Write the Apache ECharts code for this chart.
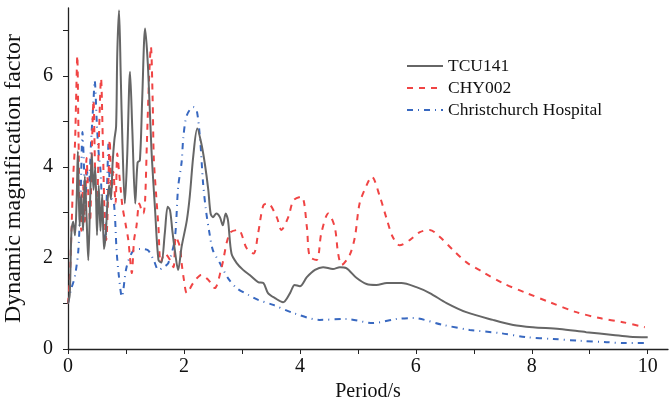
<!DOCTYPE html>
<html><head><meta charset="utf-8">
<script src="https://cdn.jsdelivr.net/npm/echarts@6/dist/echarts.min.js"></script>
<style>html,body{margin:0;padding:0;background:#fff}#c{width:670px;height:404px}</style>
</head><body><div id="c"></div>
<script>
const seriesNames = ['TCU141', 'CHY002', 'Christchurch Hospital'];
const xTickValues = [0,1,2,3,4,5,6,7,8,9,10];
const xLabelValues = [0,2,4,6,8,10];
const yTickValues = [0,1,2,3,4,5,6,7];
const yLabelValues = [0,2,4,6];

const tcuT = [0,0.03,0.06,0.09,0.12,0.15,0.17,0.2,0.23,0.26,0.29,0.32,0.35,0.38,0.41,0.44,0.47,0.5,0.53,0.56,0.59,0.62,0.65,0.68,0.71,0.74,0.77,0.8,0.83,0.85,0.88,0.91,0.94,0.98,1.02,1.07,1.11,1.16,1.2,1.24,1.28,1.33,1.38,1.44,1.5,1.56,1.61,1.67,1.72,1.76,1.8,1.84,1.9,1.96,2.05,2.1,2.16,2.23,2.3,2.36,2.42,2.46,2.5,2.56,2.62,2.67,2.72,2.76,2.82,2.91,3.02,3.14,3.28,3.37,3.45,3.57,3.71,3.83,3.91,4.0,4.12,4.26,4.4,4.57,4.69,4.8,4.98,5.15,5.32,5.5,5.75,6.01,6.24,6.53,6.87,7.33,7.68,8.02,8.48,8.94,9.4,9.69,10.0];
const tcuV = [1.0,1.2,2.6,2.8,2.5,3.3,4.35,2.7,3.4,2.6,3.8,2.9,1.95,3.2,4.3,3.5,4.0,2.5,3.6,2.6,3.4,2.2,2.5,3.2,3.6,3.3,4.1,4.6,4.9,6.5,7.45,6.0,4.5,3.2,4.2,6.1,4.8,3.2,4.1,4.15,5.5,7.05,6.2,4.37,3.1,1.96,1.9,2.55,3.13,3.05,2.6,2.2,1.74,2.25,2.83,3.35,4.23,4.85,4.52,4.08,3.5,2.98,2.9,2.98,2.9,2.72,2.98,2.83,2.1,1.89,1.74,1.62,1.47,1.45,1.23,1.12,1.03,1.23,1.41,1.38,1.58,1.74,1.8,1.76,1.8,1.78,1.56,1.43,1.41,1.45,1.45,1.36,1.23,1.01,0.81,0.64,0.53,0.48,0.44,0.37,0.31,0.27,0.26];

const chyT = [0,0.03,0.06,0.09,0.12,0.14,0.16,0.18,0.2,0.23,0.26,0.29,0.32,0.35,0.38,0.41,0.44,0.47,0.5,0.53,0.57,0.6,0.63,0.66,0.69,0.72,0.75,0.78,0.82,0.85,0.88,0.91,0.94,1.0,1.04,1.07,1.1,1.14,1.18,1.23,1.27,1.3,1.33,1.36,1.4,1.43,1.46,1.48,1.52,1.56,1.6,1.67,1.76,1.82,1.86,1.93,1.96,2.0,2.05,2.16,2.3,2.42,2.53,2.65,2.79,2.94,3.08,3.2,3.28,3.37,3.45,3.6,3.68,3.8,3.89,4.03,4.12,4.17,4.29,4.37,4.49,4.6,4.66,4.72,4.86,4.95,5.03,5.15,5.24,5.38,5.5,5.6,5.72,5.9,6.07,6.24,6.41,6.64,6.87,7.16,7.5,7.91,8.31,8.77,9.17,9.57,9.95];
const chyV = [1.0,1.5,2.6,3.8,4.5,5.5,6.45,4.8,3.2,2.6,3.6,2.8,4.2,3.4,2.8,4.3,5.47,3.8,3.2,4.5,5.95,4.6,3.0,2.4,3.3,4.6,3.5,3.9,3.2,4.3,3.9,3.5,3.13,2.7,2.4,2.0,1.67,2.4,2.69,3.2,3.05,2.98,3.27,4.5,6.0,6.65,5.5,4.2,3.4,2.69,1.9,2.1,1.96,1.8,2.47,2.25,1.89,1.52,1.23,1.45,1.63,1.52,1.34,1.8,2.55,2.62,2.22,2.1,2.55,3.16,3.2,2.9,2.62,2.9,3.27,3.35,2.69,2.03,1.96,2.55,2.98,2.69,2.1,1.85,2.07,2.47,3.2,3.6,3.79,3.35,2.85,2.47,2.28,2.4,2.57,2.62,2.47,2.18,1.91,1.69,1.45,1.23,1.03,0.81,0.68,0.59,0.48];

const chcT = [0,0.05,0.1,0.13,0.18,0.22,0.25,0.27,0.3,0.33,0.36,0.4,0.44,0.46,0.5,0.53,0.56,0.59,0.64,0.67,0.7,0.73,0.79,0.84,0.88,0.93,1.01,1.13,1.25,1.38,1.48,1.56,1.65,1.73,1.84,1.9,1.96,1.99,2.05,2.16,2.22,2.28,2.33,2.38,2.44,2.5,2.62,2.76,2.91,3.11,3.28,3.54,3.89,4.34,4.8,5.26,5.67,5.95,6.47,6.93,7.45,7.91,8.37,8.83,9.29,9.63,9.98];
const chcV = [1.0,1.3,1.5,1.67,2.2,3.5,4.77,4.23,3.2,3.9,3.65,4.6,5.47,5.9,4.89,4.3,3.93,3.13,2.33,3.4,4.52,3.35,3.23,2.13,1.58,1.15,1.8,2.17,2.2,2.17,1.95,1.74,1.8,1.89,2.4,3.56,4.11,4.66,5.14,5.32,5.25,4.59,3.65,3.05,2.55,2.17,1.89,1.56,1.34,1.19,1.08,0.97,0.79,0.64,0.66,0.57,0.66,0.68,0.53,0.42,0.35,0.26,0.22,0.18,0.15,0.13,0.13];

function zip(a, b) { return a.map((t, i) => [t, b[i]]); }

const font = '"Liberation Serif", "Times New Roman", serif';
const chart = echarts.init(document.getElementById('c'), null, {renderer: 'canvas'});
chart.setOption({
  animation: false,
  backgroundColor: '#fff',
  grid: {left: 68, right: 2, top: 8, bottom: 55, containLabel: false, outerBoundsMode: 'none'},
  legend: {
    orient: 'vertical', left: 401, top: 52,
    itemWidth: 36, itemHeight: 14, itemGap: 4,
    itemStyle: {opacity: 0},
    textStyle: {fontFamily: font, fontSize: 17.5, color: '#111'},
    data: seriesNames
  },
  xAxis: {
    type: 'value', min: 0, max: 10.35,
    name: 'Period/s', nameLocation: 'middle', nameGap: 29,
    nameTextStyle: {fontFamily: font, fontSize: 20, color: '#111'},
    axisLine: {onZero: false, lineStyle: {color: '#222', width: 1.3}},
    axisTick: {show: true, length: 5, customValues: xTickValues, lineStyle: {color: '#222'}},
    axisLabel: {customValues: xLabelValues, fontFamily: font, fontSize: 20, color: '#111', margin: 8},
    splitLine: {show: false}
  },
  yAxis: {
    type: 'value', min: 0, max: 7.5,
    name: 'Dynamic magnification factor', nameLocation: 'middle', nameGap: 42,
    nameTextStyle: {fontFamily: font, fontSize: 24, color: '#111'},
    axisLine: {show: true, onZero: false, lineStyle: {color: '#222', width: 1.3}},
    axisTick: {show: true, length: 5, customValues: yTickValues, lineStyle: {color: '#222'}},
    axisLabel: {customValues: yLabelValues, fontFamily: font, fontSize: 20, color: '#111', margin: 15},
    splitLine: {show: false}
  },
  series: [
    {name: seriesNames[0], type: 'line', data: zip(tcuT, tcuV), symbol: 'none', smooth: 0.3,
     lineStyle: {color: '#666666', width: 2}, itemStyle: {color: '#666666'}, z: 3},
    {name: seriesNames[1], type: 'line', data: zip(chyT, chyV), symbol: 'none', smooth: 0.3,
     lineStyle: {color: '#f04444', width: 2, type: [6, 6]}, itemStyle: {color: '#f04444'}, z: 2},
    {name: seriesNames[2], type: 'line', data: zip(chcT, chcV), symbol: 'none', smooth: 0.3,
     lineStyle: {color: '#3868c0', width: 2, type: [6, 5, 1, 5]}, itemStyle: {color: '#3868c0'}, z: 1}
  ]
});
</script></body></html>
